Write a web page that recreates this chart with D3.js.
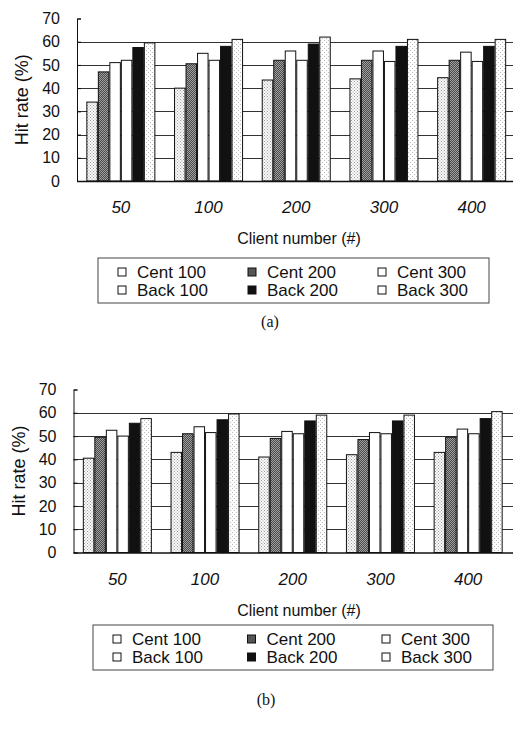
<!DOCTYPE html>
<html>
<head>
<meta charset="utf-8">
<script src="https://cdn.jsdelivr.net/npm/d3@7"></script>
<style>
  body { margin: 0; background: #fff; }
  svg { display: block; }
</style>
</head>
<body>
<svg id="chart" width="513" height="729"></svg>
<script>
// categories and series
const categories = ["50", "100", "200", "300", "400"];
const seriesNames = ["Cent 100", "Cent 200", "Cent 300", "Back 100", "Back 200", "Back 300"];
const yTicks = [0, 10, 20, 30, 40, 50, 60, 70];

// panel (a) hit rates
const cent100A = [34, 40, 43.5, 44, 44.5];
const cent200A = [47, 50.5, 52, 52, 52];
const cent300A = [51, 55, 56, 56, 55.5];
const back100A = [52, 52, 52, 51.5, 51.5];
const back200A = [57.5, 58, 59, 58, 58];
const back300A = [59.5, 61, 62, 61, 61];

// panel (b) hit rates
const cent100B = [40.5, 43, 41, 42, 43];
const cent200B = [49.5, 51, 49, 48.5, 49.5];
const cent300B = [52.5, 54, 52, 51.5, 53];
const back100B = [50, 51.5, 51, 51, 51];
const back200B = [55.5, 57, 56.5, 56.5, 57.5];
const back300B = [57.5, 59.5, 59, 59, 60.5];

const fills = ["url(#dotLight)", "url(#dotDark)", "#fff", "#fff", "#111", "url(#dotPale)"];
const FONT = "Arial, 'Liberation Sans', sans-serif";

const svg = d3.select("#chart");

// ! PATTERNS FOR THE SCANNED LOOK
const defs = svg.append("defs");
function addDots(id, bg, dot, step) {
  const p = defs.append("pattern").attr("id", id)
    .attr("width", step).attr("height", step).attr("patternUnits", "userSpaceOnUse");
  p.append("rect").attr("width", step).attr("height", step).attr("fill", bg);
  p.append("rect").attr("width", 1).attr("height", 1).attr("fill", dot);
  p.append("rect").attr("x", step / 2).attr("y", step / 2).attr("width", 1).attr("height", 1).attr("fill", dot);
}
addDots("dotLight", "#fbfbfb", "#9a9a9a", 3);
addDots("dotDark", "#4a4a4a", "#a0a0a0", 2);
addDots("dotPale", "#fdfdfd", "#bbb", 4);

// ! DRAW ONE PANEL
function drawPanel(cfg) {
  const series = [cfg.c100, cfg.c200, cfg.c300, cfg.b100, cfg.b200, cfg.b300];
  const g = svg.append("g");

  const x = d3.scaleBand().domain(categories)
    .range([cfg.left, cfg.left + 438.5]).paddingInner(0.213).paddingOuter(0.1065);
  const xs = d3.scaleBand().domain(seriesNames).range([0, x.bandwidth()]);
  const y = d3.scaleLinear().domain([0, 70]).range([cfg.bottom, cfg.top]);

  // gridlines
  g.selectAll(".grid").data(yTicks.filter(t => t > 0 && t < 70)).join("line")
    .attr("x1", cfg.left).attr("x2", 513)
    .attr("y1", d => Math.round(y(d)) + 0.5).attr("y2", d => Math.round(y(d)) + 0.5)
    .attr("stroke", "#333").attr("stroke-width", 1);

  // bars
  const rows = [];
  categories.forEach((c, i) => {
    seriesNames.forEach((s, j) => rows.push({cat: c, s: s, j: j, v: series[j][i]}));
  });
  g.selectAll(".bar").data(rows).join("rect")
    .attr("x", d => x(d.cat) + xs(d.s) + 0.5)
    .attr("y", d => y(d.v))
    .attr("width", xs.bandwidth() - 1)
    .attr("height", d => cfg.bottom - y(d.v))
    .attr("fill", d => fills[d.j])
    .attr("stroke", "#111").attr("stroke-width", 1);

  // y axis
  const yAxis = d3.axisLeft(y).tickValues(yTicks).tickSize(-4).tickPadding(17);
  const ya = g.append("g").attr("transform", `translate(${cfg.left},0)`).call(yAxis);
  ya.select(".domain").attr("stroke", "#111");
  ya.selectAll(".tick line").attr("stroke", "#111");
  ya.selectAll("text").attr("font-family", FONT).attr("font-size", 16).attr("fill", "#111");

  // x axis
  g.append("line").attr("x1", cfg.left).attr("x2", 513)
    .attr("y1", cfg.bottom + 0.5).attr("y2", cfg.bottom + 0.5).attr("stroke", "#111").attr("stroke-width", 1.5);
  g.selectAll(".xl").data(categories).join("text")
    .attr("x", d => x(d) + x.bandwidth() / 2).attr("y", cfg.bottom + 32)
    .attr("text-anchor", "middle").attr("font-family", FONT).attr("font-size", 17)
    .attr("font-style", "italic").attr("fill", "#111").text(d => d);

  // axis titles
  g.append("text").attr("transform", `translate(${cfg.left - 49},${(cfg.top + cfg.bottom) / 2}) rotate(-90)`)
    .attr("text-anchor", "middle").attr("font-family", FONT).attr("font-size", 18)
    .attr("fill", "#111").text("Hit rate (%)");
  g.append("text").attr("x", 299).attr("y", cfg.bottom + 63)
    .attr("text-anchor", "middle").attr("font-family", FONT).attr("font-size", 16)
    .attr("fill", "#111").text("Client number (#)");

  // legend
  const lg = g.append("g").attr("transform", `translate(${cfg.legX},${cfg.legY})`);
  lg.append("rect").attr("width", cfg.legW).attr("height", 45)
    .attr("fill", "#fff").attr("stroke", "#444").attr("stroke-width", 1);
  const colX = [20, 150, 280];
  seriesNames.forEach((s, j) => {
    const cx = colX[j % 3] + (j % 3) * (cfg.legW - 391) / 2, cy = j < 3 ? 14 : 32;
    lg.append("rect").attr("x", cx).attr("y", cy - 4).attr("width", 8).attr("height", 8)
      .attr("fill", j === 1 ? "#555" : fills[j] === "#111" ? "#111" : "#fff")
      .attr("stroke", "#111").attr("stroke-width", 1);
    lg.append("text").attr("x", cx + 19).attr("y", cy + 6)
      .attr("font-family", FONT).attr("font-size", 17).attr("fill", "#111").text(s);
  });

  // caption
  g.append("text").attr("x", cfg.capX).attr("y", cfg.capY).attr("text-anchor", "middle")
    .attr("font-family", "'Liberation Serif', 'Times New Roman', serif").attr("font-size", 16)
    .attr("fill", "#111").text(cfg.caption);
}

drawPanel({c100: cent100A, c200: cent200A, c300: cent300A, b100: back100A, b200: back200A, b300: back300A,
  left: 77, top: 18.5, bottom: 181, legX: 98, legY: 258, legW: 391, caption: "(a)", capX: 270, capY: 327});
drawPanel({c100: cent100B, c200: cent200B, c300: cent300B, b100: back100B, b200: back200B, b300: back300B,
  left: 73.5, top: 389.5, bottom: 552.5, legX: 93, legY: 625, legW: 400, caption: "(b)", capX: 266, capY: 705});
</script>
</body>
</html>
